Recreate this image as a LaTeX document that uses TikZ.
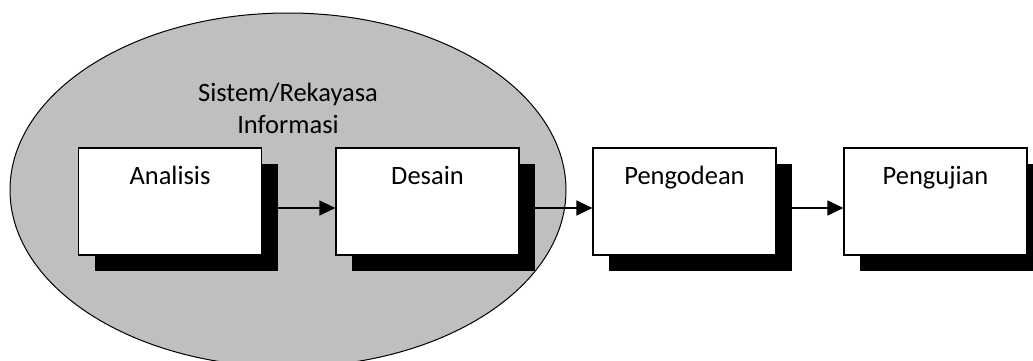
\documentclass[tikz,border=0pt]{standalone}
\usepackage{fontspec}
\setmainfont{Carlito}
\usetikzlibrary{arrows.meta,shadows}
\definecolor{ellgray}{RGB}{191,191,191}
\tikzset{
  stagebox/.style={draw=black, line width=1.2pt, fill=white, inner sep=0pt,
    minimum width=183pt, minimum height=107pt, text width=183pt, align=center,
    text height=36pt, text depth=71pt, font=\fontsize{26.5}{30}\selectfont,
    drop shadow={shadow xshift=16pt, shadow yshift=-16pt, fill=black, opacity=1}},
  flowarrow/.style={line width=1.2pt, -{Triangle[length=16pt,width=15pt]}},
  lbl/.style={align=center, inner sep=0pt, font=\fontsize{26.5}{32}\selectfont}
}
\begin{document}
\begin{tikzpicture}[x=1pt,y=-1pt]
\useasboundingbox (0,0) rectangle (1033,361);
\clip (0,0) rectangle (1033,361);
\draw[fill=ellgray, line width=1pt] (288,190) ellipse [x radius=278, y radius=177];
\node[lbl] (title) at (288,108.5) {Sistem/Rekayasa\\Informasi};
\node[stagebox] (an) at (170,201.5) {Analisis};
\node[stagebox] (de) at (427.5,201.5) {Desain};
\node[stagebox] (pe) at (684.5,201.5) {Pengodean};
\node[stagebox] (pu) at (935.5,201.5) {Pengujian};
\draw[flowarrow] ([yshift=-6.5pt]an.east) -- ([yshift=-6.5pt]de.west);
\draw[flowarrow] ([yshift=-6.5pt]de.east) -- ([yshift=-6.5pt]pe.west);
\draw[flowarrow] ([yshift=-6.5pt]pe.east) -- ([yshift=-6.5pt]pu.west);
\end{tikzpicture}
\end{document}
